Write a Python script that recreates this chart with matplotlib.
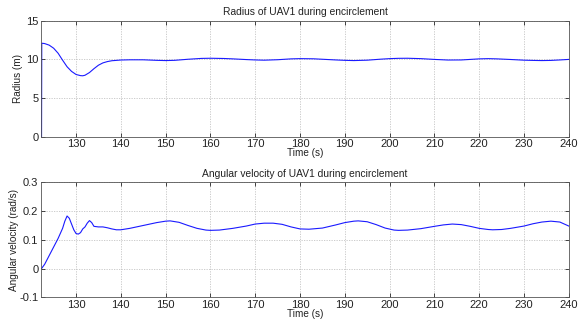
import matplotlib.pyplot as plt
import matplotlib.ticker as mticker

plt.rcParams['font.family'] = ['Liberation Sans', 'DejaVu Sans']

# radius of UAV1 (m)
t_r = [122.3, 122.35, 123, 124, 125, 126, 127, 128, 129, 130, 131, 131.5, 132, 133, 134, 135,
       136, 137, 138, 140, 142, 145, 148, 150, 152, 155, 158, 160, 163, 165, 168, 170, 172,
       175, 178, 180, 183, 185, 188, 190, 192, 195, 198, 200, 202, 204, 207, 210, 213, 216,
       218, 220, 222, 224, 227, 230, 232, 234, 236, 238, 240]
radius = [0, 12.1, 12.05, 11.85, 11.45, 10.8, 9.9, 9.05, 8.45, 8.05, 7.9, 7.88, 7.95, 8.3,
          8.8, 9.25, 9.55, 9.72, 9.83, 9.92, 9.95, 9.95, 9.88, 9.85, 9.88, 10.02, 10.13,
          10.15, 10.12, 10.07, 9.98, 9.93, 9.9, 9.96, 10.07, 10.1, 10.08, 10.02, 9.93, 9.88,
          9.85, 9.9, 10.03, 10.1, 10.14, 10.15, 10.1, 10.0, 9.92, 9.93, 10.0, 10.07, 10.1,
          10.07, 9.99, 9.9, 9.87, 9.85, 9.87, 9.93, 10.0]

# angular velocity of UAV1 (rad/s)
t_w = [122.3, 123, 124, 125, 126, 127, 127.5, 128, 128.5, 129, 129.5, 130, 130.5, 131,
       131.5, 132, 132.5, 133, 133.5, 134, 135, 136, 137, 138, 139, 140, 142, 145, 148, 150,
       151, 153, 155, 157, 159, 160, 162, 165, 168, 170, 172, 174, 176, 178, 180, 182, 185,
       188, 190, 192, 193, 195, 197, 199, 201, 202, 204, 207, 210, 212, 214, 216, 218, 220,
       222, 223, 225, 227, 230, 232, 234, 236, 238, 240]
omega = [0.0, 0.015, 0.045, 0.075, 0.105, 0.14, 0.165, 0.183, 0.175, 0.155, 0.135, 0.122,
         0.12, 0.125, 0.138, 0.145, 0.158, 0.167, 0.16, 0.147, 0.145, 0.145, 0.142, 0.138,
         0.135, 0.135, 0.14, 0.15, 0.16, 0.165, 0.166, 0.161, 0.15, 0.14, 0.134, 0.133,
         0.134, 0.14, 0.148, 0.155, 0.158, 0.158, 0.154, 0.145, 0.138, 0.137, 0.141, 0.152,
         0.16, 0.165, 0.166, 0.163, 0.153, 0.141, 0.134, 0.133, 0.134, 0.139, 0.147, 0.152,
         0.155, 0.153, 0.147, 0.14, 0.136, 0.135, 0.136, 0.14, 0.148, 0.156, 0.162, 0.165,
         0.162, 0.148]

xticks = list(range(130, 241, 10))

fig = plt.figure(figsize=(5.87, 3.20), dpi=100)
ax1 = fig.add_axes([0.070, 0.573, 0.899, 0.362])
ax2 = fig.add_axes([0.070, 0.071, 0.899, 0.359])

ax1.plot(t_r, radius, color='#1a1aff', lw=0.8)
ax1.set_xlim(122.2, 240)
ax1.set_ylim(0, 15)
ax1.set_yticks([0, 5, 10, 15])
ax1.set_ylabel('Radius (m)', fontsize=7.2, labelpad=2, color='#222222')
ax1.set_title('Radius of UAV1 during encirclement', fontsize=7.4, pad=4, color='#222222')

ax2.plot(t_w, omega, color='#1a1aff', lw=0.8)
ax2.set_xlim(122.2, 240)
ax2.set_ylim(-0.1, 0.3)
ax2.set_yticks([-0.1, 0, 0.1, 0.2, 0.3])
ax2.yaxis.set_major_formatter(mticker.FuncFormatter(lambda v, p: '0' if abs(v) < 1e-9 else '%g' % v))
ax2.set_ylabel('Angular velocity (rad/s)', fontsize=7.2, labelpad=0, color='#222222')
ax2.set_title('Angular velocity of UAV1 during encirclement', fontsize=7.4, pad=4, color='#222222')

for ax in (ax1, ax2):
    ax.set_xticks(xticks)
    ax.set_xlabel('Time (s)', fontsize=7.2, labelpad=-1, color='#222222')
    ax.tick_params(direction='in', length=3, width=0.5, labelsize=8, pad=2,
                   top=True, right=True, labelcolor='#222222')
    ax.grid(True, color='#c4c4c4', linestyle=(0, (1.5, 1.5)), linewidth=0.6)
    for s in ax.spines.values():
        s.set_linewidth(0.6)
        s.set_color('#555555')

fig.savefig('out.png', dpi=100)
